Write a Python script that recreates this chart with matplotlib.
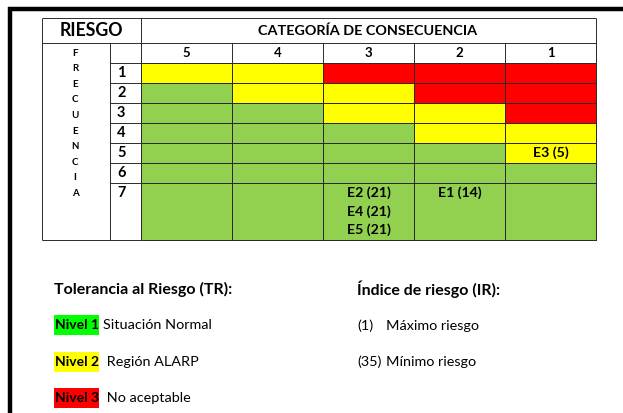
import matplotlib.pyplot as plt
import numpy as np
from matplotlib.colors import ListedColormap
from matplotlib.patches import Rectangle

plt.rcParams['font.family'] = ['Lato', 'DejaVu Sans']

# datos de la matriz
consecuencia = [5, 4, 3, 2, 1]
frecuencia = [1, 2, 3, 4, 5, 6, 7]
nivel = np.array([[2, 2, 3, 3, 3],
                  [1, 2, 2, 3, 3],
                  [1, 1, 2, 2, 3],
                  [1, 1, 1, 2, 2],
                  [1, 1, 1, 1, 2],
                  [1, 1, 1, 1, 1],
                  [1, 1, 1, 1, 1]])
eventos = ["E1 (14)", "E2 (21)", "E3 (5)", "E4 (21)", "E5 (21)"]
evento_frec = [7, 7, 5, 7, 7]
evento_cons = [2, 3, 1, 3, 3]

niveles_txt = ["Nivel 1", "Nivel 2", "Nivel 3"]
niveles_desc = ["Situación Normal", " Región ALARP", " No aceptable"]
niveles_col = ["#00FF00", "#FFFF00", "#FF0000"]
indice_txt = ["(1)", "(35)"]
indice_desc = ["Máximo riesgo", "Mínimo riesgo"]

# colores de celdas
cmap = ListedColormap(["#92D050", "#FFFF00", "#FF0000"])

# layout en pixeles
W, H = 623, 413
x_edges = np.linspace(141, 596, len(consecuencia) + 1)
y_edges = np.array([63, 83, 103, 123, 143, 163, 183, 240])
line_c = "#2b2b2b"
lw = 0.7

fig = plt.figure(figsize=(W / 100, H / 100), dpi=100)
ax = fig.add_axes([0, 0, 1, 1])
ax.set_xlim(0, W)
ax.set_ylim(H, 0)
ax.axis('off')

ax.pcolormesh(x_edges, y_edges, nivel, cmap=cmap, vmin=0.5, vmax=3.5,
              edgecolors=line_c, linewidth=lw)

# marco negro
ax.plot([9.5, 9.5], [7, H], color='black', lw=3.2, solid_capstyle='butt')
ax.plot([8, W], [9, 9], color='black', lw=3.2, solid_capstyle='butt')

# lineas de cabecera
ax.hlines([18, 43], 42, 596, color=line_c, lw=lw)
ax.hlines(240, 42, 596, color=line_c, lw=lw)
ax.hlines(y_edges[:-1], 110, 141, color=line_c, lw=lw)
ax.vlines([42, 141, 596], 18, 240, color=line_c, lw=lw)
ax.vlines(110, 43, 240, color=line_c, lw=lw)
ax.vlines(x_edges, 43, 63, color=line_c, lw=lw)

ax.text(91, 31, "RIESGO", ha='center', va='center', fontsize=12.8, fontweight='bold')
ax.text(368, 31, "CATEGORÍA DE CONSECUENCIA", ha='center', va='center',
        fontsize=10.4, fontweight='bold')

xc = (x_edges[:-1] + x_edges[1:]) / 2
for i, c in enumerate(consecuencia):
    ax.text(xc[i], 53, str(c), ha='center', va='center', fontsize=9.5, fontweight='bold')

for j, f in enumerate(frecuencia):
    ax.text(117, y_edges[j] + 10, str(f), ha='left', va='center', fontsize=10.5,
            fontweight='bold')

for k, ch in enumerate("FRECUENCIA"):
    ax.text(75, 53 + k * 15.6, ch, ha='center', va='center', fontsize=7,
            fontweight='bold')

# eventos en las celdas
contador = {}
for e, f, c in zip(eventos, evento_frec, evento_cons):
    i = consecuencia.index(c)
    j = frecuencia.index(f)
    n = contador.get((f, c), 0)
    contador[(f, c)] = n + 1
    ax.text(xc[i], y_edges[j] + 10 + n * 18.5, e, ha='center', va='center',
            fontsize=10.2, fontweight='bold')

# leyendas
ax.text(54, 289, "Tolerancia al Riesgo (TR):", ha='left', va='center',
        fontsize=11.5, fontweight='bold')
for k, (t, d, col) in enumerate(zip(niveles_txt, niveles_desc, niveles_col)):
    y = 325 + k * 36.5
    ax.add_patch(Rectangle((54, y - 10), 45, 20, fc=col, ec='none'))
    ax.text(55, y, t, ha='left', va='center', fontsize=10, fontweight='bold')
    ax.text(103, y, d, ha='left', va='center', fontsize=10.4)

ax.text(357, 289, "Índice de riesgo (IR):", ha='left', va='center',
        fontsize=11.5, fontweight='bold')
for k, (t, d) in enumerate(zip(indice_txt, indice_desc)):
    y = 326 + k * 36
    ax.text(357, y, t, ha='left', va='center', fontsize=10.4)
    ax.text(386, y, d, ha='left', va='center', fontsize=10.4)

fig.savefig("out.png", dpi=100)
